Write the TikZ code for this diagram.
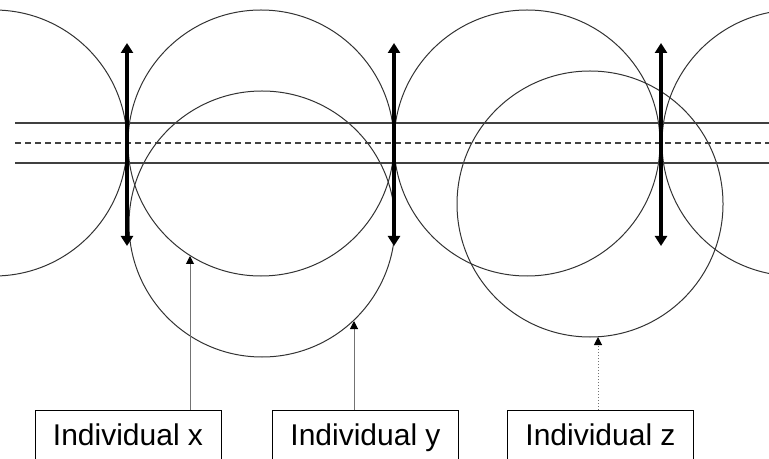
\documentclass[tikz,border=0pt]{standalone}
\usepackage{fontspec}
\setmainfont{Liberation Sans}
\usetikzlibrary{arrows.meta,positioning}

\begin{document}
\begin{tikzpicture}[
  x=0.5pt, y=-0.5pt,
  ring/.style={draw=black!80, line width=0.5pt},
  band/.style={draw=black!75, line width=0.75pt},
  axis/.style={{Triangle[length=5pt,width=6pt]}-{Triangle[length=5pt,width=6pt]}, line width=2pt},
  idbox/.style={draw, line width=0.5pt, anchor=north, minimum width=93pt, inner xsep=0pt, inner ysep=0pt, text height=17.5pt, text depth=30pt, font=\fontsize{15}{18}\selectfont},
  ptr/.style={-{Triangle[length=4pt,width=4pt,color=black]}, draw=black!55, line width=0.5pt}
]
\clip (0,0) rectangle (769,459);
% upper row of circles
\foreach \cx in {-6,261,527,795}
  \draw[ring] (\cx,143) circle[radius=133];
% lower circles
\draw[ring] (262,224) circle[radius=133];
\draw[ring] (590,204) circle[radius=133];
% band
\draw[band] (15,123) -- (769,123);
\draw[band] (15,163) -- (769,163);
\draw[band, dash pattern=on 3pt off 2pt] (15,143) -- (769,143);
% double arrows
\foreach \ax in {127,394,661}
  \draw[axis] (\ax,43) -- (\ax,246);
% boxes
\node[idbox] (indx) at (128,410) {Individual x};
\node[idbox] (indy) at (365.5,410) {Individual y};
\node[idbox] (indz) at (600.5,410) {Individual z};
\coordinate (hitx) at (190,256);
\coordinate (hity) at (354,321);
\coordinate (hitz) at (598,337);
\draw[ptr] (indx.north -| hitx) -- (hitx);
\draw[ptr] (indy.north -| hity) -- (hity);
\draw[ptr, densely dotted] (indz.north -| hitz) -- (hitz);
\end{tikzpicture}
\end{document}
